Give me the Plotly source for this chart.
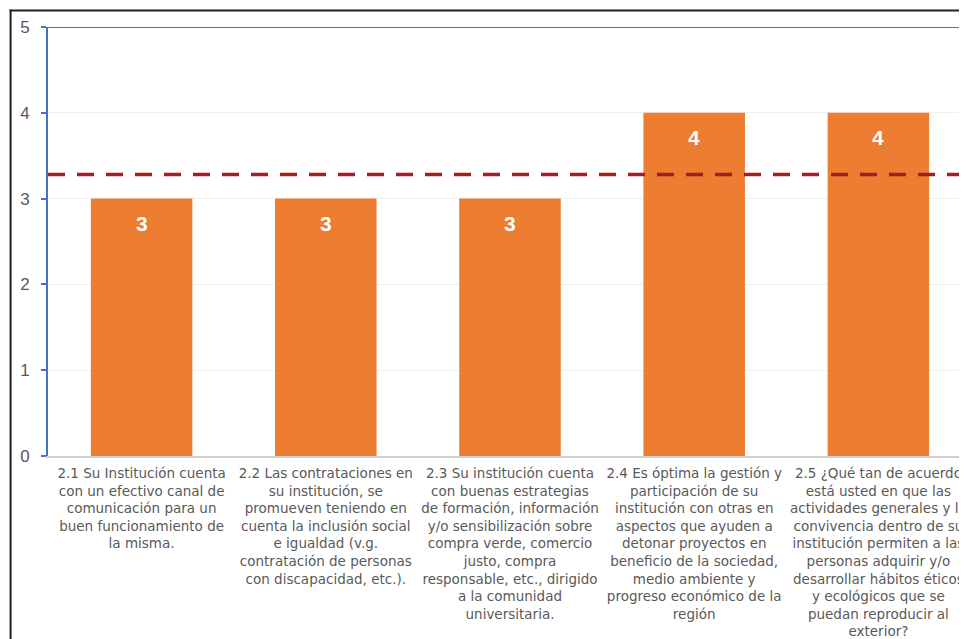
import plotly.graph_objects as go

categories = [
    "2.1 Su Institución cuenta<br>con un efectivo canal de<br>comunicación para un<br>buen funcionamiento de<br>la misma.",
    "2.2 Las contrataciones en<br>su institución, se<br>promueven teniendo en<br>cuenta la inclusión social<br>e igualdad (v.g.<br>contratación de personas<br>con discapacidad, etc.).",
    "2.3 Su institución cuenta<br>con buenas estrategias<br>de formación, información<br>y/o sensibilización sobre<br>compra verde, comercio<br>justo, compra<br>responsable, etc., dirigido<br>a la comunidad<br>universitaria.",
    "2.4 Es óptima la gestión y<br>participación de su<br>institución con otras en<br>aspectos que ayuden a<br>detonar proyectos en<br>beneficio de la sociedad,<br>medio ambiente y<br>progreso económico de la<br>región",
    "2.5 ¿Qué tan de acuerdo<br>está usted en que las<br>actividades generales y la<br>convivencia dentro de su<br>institución permiten a las<br>personas adquirir y/o<br>desarrollar hábitos éticos<br>y ecológicos que se<br>puedan reproducir al<br>exterior?",
]
values = [3, 3, 3, 4, 4]
reference_value = 3.28
y_ticks = [0, 1, 2, 3, 4, 5]

# the page body has an 8px margin; figure is sized to fill the rest of the window
OFF = 8
W, H = 967 - OFF, 639 - OFF
L, R, T, B = 48 - OFF, 0, 27 - OFF, 639 - 457
pw, ph = W - L - R, H - T - B
SPACING = 184.6  # px per category

def px_x(p):  # page pixel -> paper
    return (p - OFF - L) / pw

def px_y(p):
    return (H - B - (p - OFF)) / ph

FONT = "Liberation Sans, Arial, sans-serif"
CAT_FONT = "DejaVu Sans, Liberation Sans, sans-serif"
GREY = "#595959"

fig = go.Figure()
fig.add_trace(go.Bar(
    x=list(range(len(values))), y=values,
    marker=dict(color="#ED7D31", line=dict(width=0)),
    hoverinfo="skip",
))

for i, v in enumerate(values):
    fig.add_annotation(x=i, y=v, text=f"<b>{v}</b>", showarrow=False,
                       yshift=-25, font=dict(family=FONT, size=21, color="white"))

shapes = [
    dict(type="line", xref="paper", yref="y", x0=0, x1=1,
         y0=reference_value, y1=reference_value,
         line=dict(color="#A21E22", width=3.5, dash="17px,12px"), layer="above"),
    dict(type="line", xref="paper", yref="y", x0=px_x(43), x1=1, y0=5, y1=5,
         line=dict(color="#4472C4", width=2), layer="above"),
    dict(type="line", xref="paper", yref="paper", x0=px_x(10.5), x1=px_x(10.5),
         y0=px_y(9.5), y1=px_y(650), line=dict(color="#222222", width=2)),
    dict(type="line", xref="paper", yref="paper", x0=px_x(9.5), x1=px_x(980),
         y0=px_y(10.5), y1=px_y(10.5), line=dict(color="#222222", width=2)),
]

x0 = -(141.8 - 48) / SPACING
fig.update_layout(
    width=W, height=H,
    margin=dict(l=L, r=R, t=T, b=B, pad=0),
    paper_bgcolor="white", plot_bgcolor="white",
    showlegend=False, bargap=0.449,
    font=dict(family=FONT, color=GREY),
    shapes=shapes,
    xaxis=dict(
        range=[x0, x0 + pw / SPACING],
        tickmode="array", tickvals=list(range(len(values))), ticktext=categories,
        tickangle=0, tickfont=dict(size=13.5, color=GREY, family=CAT_FONT),
        showgrid=False, zeroline=False, showline=True, ticklabeloverflow="allow",
        linecolor="#D0D0D0", linewidth=2, ticks="", ticklabelstandoff=4,
    ),
    yaxis=dict(
        range=[0, 5], tickvals=y_ticks, showgrid=True, gridcolor="#EFEFEF", gridwidth=1,
        zeroline=False, showline=True, linecolor="#4472C4", linewidth=2,
        ticks="outside", ticklen=5, tickwidth=2, tickcolor="#4472C4",
        tickfont=dict(size=17, color=GREY, family=FONT), ticklabelstandoff=8,
    ),
)

fig.write_html("out.html")
